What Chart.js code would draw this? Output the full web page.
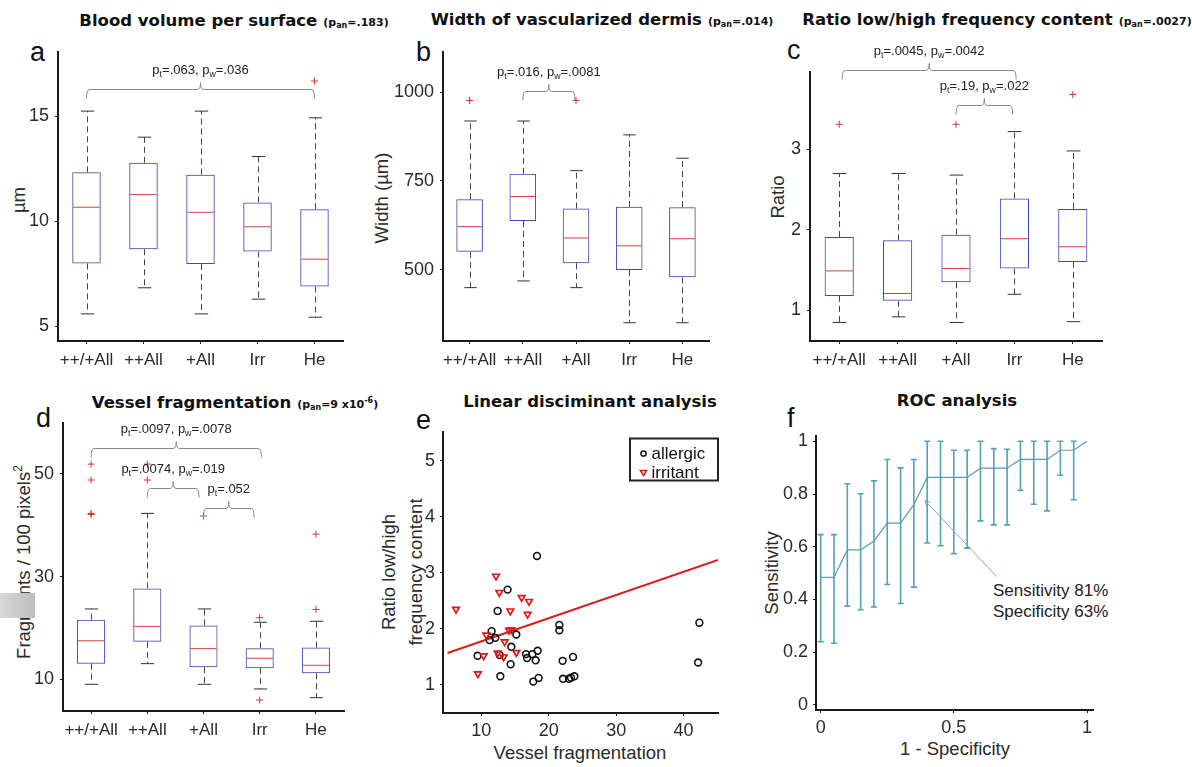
<!DOCTYPE html>
<html><head><meta charset="utf-8">
<script src="https://cdn.jsdelivr.net/npm/chart.js@4.4.1/dist/chart.umd.min.js"></script>
<style>
html,body{margin:0;padding:0;background:#fff;width:1192px;height:767px;overflow:hidden;position:relative;font-family:'Liberation Sans',Arial,sans-serif;color:#222}
canvas{position:absolute}
.t{position:absolute;transform:translateX(-50%);white-space:nowrap;font-family:'DejaVu Sans',sans-serif;font-weight:bold;font-size:16.5px;line-height:24px;color:#111}
.t small{font-size:11px;margin-left:6px}
.t sub{font-size:8px;vertical-align:-2px}
.t sup{font-size:8px;vertical-align:5px}
.lt{position:absolute;font-size:27px;line-height:27px;color:#111}
.yl{position:absolute;transform:translate(-50%,-50%) rotate(-90deg);white-space:nowrap;font-size:18.5px;color:#2a2a2a;line-height:27px;text-align:center}
.yl sup{font-size:12px;vertical-align:8px}
.xl{position:absolute;transform:translate(-50%,-50%);white-space:nowrap;font-size:18.5px;color:#2a2a2a}
.ann{position:absolute;font-size:17px;color:#222;line-height:21px;white-space:nowrap}
.gray{position:absolute;left:0;top:593px;width:35px;height:25px;background:linear-gradient(to right,#d8d8d8,#bdbdbd);}
</style></head><body>

<div class="t" style="left:234px;top:9px">Blood volume per surface<small>(p<sub>an</sub>=.183)</small></div>
<div class="t" style="left:602px;top:8px">Width of vascularized dermis<small>(p<sub>an</sub>=.014)</small></div>
<div class="t" style="left:997px;top:8px">Ratio low/high frequency content<small>(p<sub>an</sub>=.0027)</small></div>
<div class="t" style="left:235px;top:389px">Vessel fragmentation<small>(p<sub>an</sub>=9 x10<sup>-6</sup>)</small></div>
<div class="t" style="left:590px;top:390px">Linear disciminant analysis</div>
<div class="t" style="left:957px;top:389px">ROC analysis</div>

<div class="lt" style="left:30px;top:39px">a</div>
<div class="lt" style="left:416px;top:39px">b</div>
<div class="lt" style="left:787px;top:37px">c</div>
<div class="lt" style="left:36px;top:405px">d</div>
<div class="lt" style="left:416px;top:407px">e</div>
<div class="lt" style="left:787px;top:405px">f</div>

<div class="yl" style="left:18px;top:200px">µm</div>
<div class="yl" style="left:381px;top:198px">Width (µm)</div>
<div class="yl" style="left:777px;top:197px">Ratio</div>
<div class="yl" style="left:21px;top:562px">Fragments / 100 pixels<sup>2</sup></div>
<div class="yl" style="left:402px;top:572px">Ratio low/high<br>frequency content</div>
<div class="yl" style="left:771px;top:573px">Sensitivity</div>
<div class="xl" style="left:580px;top:753px">Vessel fragmentation</div>
<div class="xl" style="left:955px;top:749px">1 - Specificity</div>
<div class="ann" style="left:993px;top:580px">Sensitivity 81%<br>Specificity 63%</div>
<div class="gray"></div>

<script>
const FF = "'Liberation Sans', Arial, sans-serif";
Chart.defaults.font.family = FF;
Chart.defaults.color = '#2a2a2a';
Chart.defaults.animation = false;

// ---------- DATA ----------
const groups = ['++/+All', '++All', '+All', 'Irr', 'He'];

// a: Blood volume per surface (µm)
const bloodLow  = [5.6, 6.84, 5.6, 6.3, 5.44];
const bloodQ1   = [8.0, 8.67, 7.97, 8.57, 6.9];
const bloodMed  = [10.67, 11.27, 10.43, 9.74, 8.2];
const bloodQ3   = [12.33, 12.78, 12.22, 10.9, 10.57];
const bloodHigh = [15.24, 14.0, 15.24, 13.08, 14.92];
const bloodOut  = [[], [], [], [], [16.67]];
const bloodTicks = [5, 10, 15];
const bloodBrackets = [{from: 0, to: 4, level: 16.3, text: 'p_t=.063, p_w=.036'}];

// b: Width of vascularized dermis (µm)
const widthLow  = [449, 468, 449, 350, 350];
const widthQ1   = [550, 637, 518, 499, 478];
const widthMed  = [621, 706, 589, 567, 587];
const widthQ3   = [698, 770, 672, 677, 676];
const widthHigh = [919, 919, 779, 880, 814];
const widthOut  = [[977], [], [977], [], []];
const widthTicks = [500, 750, 1000];
const widthBrackets = [{from: 1, to: 1.98, level: 1004.5, text: 'p_t=.016, p_w=.0081'}];

// c: Ratio low/high frequency content
const ratioLow  = [0.85, 0.92, 0.85, 1.20, 0.86];
const ratioQ1   = [1.18, 1.12, 1.35, 1.52, 1.60];
const ratioMed  = [1.49, 1.21, 1.52, 1.89, 1.79];
const ratioQ3   = [1.91, 1.87, 1.94, 2.39, 2.26];
const ratioHigh = [2.70, 2.70, 2.68, 3.22, 2.98];
const ratioOut  = [[3.31], [], [3.31], [], [3.68]];
const ratioTicks = [1, 2, 3];
const ratioBrackets = [
  {from: 0.05, to: 3.03, level: 3.985, text: 'p_t=.0045, p_w=.0042'},
  {from: 2, to: 2.97, level: 3.547, text: 'p_t=.19, p_w=.022'}
];

// d: Vessel fragmentation (fragments / 100 pixels^2)
const fragLow  = [9.03, 13.05, 9.03, 8.12, 6.42];
const fragQ1   = [13.05, 17.3, 12.36, 12.16, 11.17];
const fragMed  = [17.5, 20.3, 15.97, 14.1, 12.73];
const fragQ3   = [21.6, 27.7, 20.5, 16.05, 16.17];
const fragHigh = [23.7, 42.3, 23.7, 21.1, 21.3];
const fragOut  = [[51.9, 48.8, 42.1, 42.3], [51.9, 48.8], [41.8], [22.0, 5.97], [38.26, 23.6]];
const fragTicks = [10, 30, 50];
const fragBrackets = [
  {from: 0, to: 3.03, level: 55.0, text: 'p_t=.0097, p_w=.0078'},
  {from: 1, to: 1.92, level: 47.2, text: 'p_t=.0074, p_w=.019'},
  {from: 2, to: 2.9, level: 43.43, text: 'p_t=.052'}
];

// e: Linear discriminant analysis
const allergicX = [18.26, 13.9, 12.42, 11.53, 11.23, 12.08, 15.19, 9.45, 12.72, 14.45, 14.35, 12.82, 16.63, 16.78, 17.57, 18.36, 18.06, 17.71, 18.5, 21.57, 21.57, 22.06, 22.12, 23.6, 23.0, 23.3, 23.8, 42.34, 42.15];
const allergicY = [3.30, 2.70, 2.32, 1.96, 1.80, 1.84, 1.90, 1.52, 1.535, 1.68, 1.37, 1.155, 1.55, 1.48, 1.55, 1.61, 1.44, 1.06, 1.125, 2.07, 1.975, 1.43, 1.11, 1.50, 1.11, 1.13, 1.155, 2.11, 1.40];
const irritantX = [12.18, 6.25, 12.67, 15.98, 17.07, 14.3, 16.87, 14.1, 14.45, 10.74, 13.46, 12.42, 10.35, 13.31, 15.19, 9.5];
const irritantY = [2.94, 2.35, 2.65, 2.56, 2.49, 2.32, 2.26, 1.975, 1.985, 1.89, 1.77, 1.57, 1.52, 1.50, 1.58, 1.20];
const ldaX = [5.0, 45.1];
const ldaY = [1.57, 3.23];
const ldaXTicks = [10, 20, 30, 40];
const ldaYTicks = [1, 2, 3, 4, 5];

// f: ROC analysis
const fpr    = [0, 0.05, 0.1, 0.15, 0.2, 0.25, 0.3, 0.35, 0.4, 0.45, 0.5, 0.55, 0.6, 0.65, 0.7, 0.75, 0.8, 0.85, 0.9, 0.95, 1];
const tpr    = [0.484, 0.484, 0.588, 0.588, 0.622, 0.69, 0.69, 0.76, 0.863, 0.863, 0.863, 0.863, 0.898, 0.898, 0.898, 0.931, 0.931, 0.931, 0.966, 0.966, 1.0];
const tprHi  = [0.646, 0.646, 0.839, 0.801, 0.85, 0.931, 0.899, 0.931, 1.0, 1.0, 0.966, 0.966, 1.0, 0.972, 0.97, 1.0, 1.0, 1.0, 1.0, 1.0, null];
const tprLo  = [0.240, 0.234, 0.375, 0.361, 0.372, 0.457, 0.385, 0.447, 0.614, 0.604, 0.574, 0.595, 0.698, 0.683, 0.683, 0.814, 0.761, 0.736, 0.871, 0.778, null];
const rocXTicks = [0, 0.5, 1];
const rocYTicks = [0, 0.2, 0.4, 0.6, 0.8, 1];
const rocNote = {from: [0.661, 0.487], to: [0.391, 0.776]};

// ---------- HELPERS ----------
const AX = '#1a1a1a';
function mkCanvas(a, m) {
  const cv = document.createElement('canvas');
  const w = (a.r - a.l) + m.L + m.R, h = (a.b - a.t) + m.T + m.B;
  cv.width = w; cv.height = h;
  cv.style.left = (a.l - m.L) + 'px'; cv.style.top = (a.t - m.T) + 'px';
  cv.style.width = w + 'px'; cv.style.height = h + 'px';
  document.body.appendChild(cv);
  return cv;
}
function axisBase() {
  return {
    grid: {display: true, drawOnChartArea: false, drawTicks: true, tickLength: 3, color: AX, tickColor: AX, offset: false},
    border: {display: true, color: AX, width: 2}
  };
}
function linAxis(min, max, ticks, size, pad, fit) {
  return Object.assign(axisBase(), {
    type: 'linear', min, max,
    ticks: {font: {size}, padding: pad, color: '#2a2a2a', callback: v => String(v)},
    afterBuildTicks: s => { s.ticks = ticks.map(v => ({value: v})); },
    afterFit: fit
  });
}
function richText(c, str, cx, cy, size) {
  const parts = [];
  for (let i = 0; i < str.length; i++) {
    if (str[i] === '_') { parts.push({t: str[i + 1], sub: true}); i++; }
    else if (parts.length && !parts[parts.length - 1].sub) parts[parts.length - 1].t += str[i];
    else parts.push({t: str[i], sub: false});
  }
  let w = 0;
  parts.forEach(p => { c.font = (p.sub ? size * 0.68 : size) + 'px ' + FF; p.w = c.measureText(p.t).width; w += p.w; });
  let x = cx - w / 2;
  c.textBaseline = 'middle'; c.textAlign = 'left';
  parts.forEach(p => { c.font = (p.sub ? size * 0.68 : size) + 'px ' + FF; c.fillText(p.t, x, p.sub ? cy + size * 0.32 : cy); x += p.w; });
}

function boxChart(area, m, low, q1, med, q3, high, out, yMin, yMax, yTicks, brackets) {
  const cv = mkCanvas(area, m);
  const outData = [];
  out.forEach((arr, i) => arr.forEach(v => outData.push({x: groups[i], y: v})));
  const boxPlugin = {
    id: 'boxwhisk',
    afterDatasetsDraw(chart) {
      const ys = chart.scales.y, c = chart.ctx;
      const bars = chart.getDatasetMeta(0).data;
      c.save();
      bars.forEach((bar, i) => {
        const px = Math.round(bar.x) + 0.5, hw = bar.width / 2, cap = bar.width * 0.235;
        const yHi = ys.getPixelForValue(high[i]), yQ3 = ys.getPixelForValue(q3[i]);
        const yLo = ys.getPixelForValue(low[i]), yQ1 = ys.getPixelForValue(q1[i]);
        c.strokeStyle = '#444'; c.lineWidth = 1; c.setLineDash([6, 4]);
        c.beginPath(); c.moveTo(px, yQ3); c.lineTo(px, yHi); c.moveTo(px, yQ1); c.lineTo(px, yLo); c.stroke();
        c.setLineDash([]); c.strokeStyle = '#333';
        c.beginPath(); c.moveTo(px - cap, yHi); c.lineTo(px + cap, yHi); c.moveTo(px - cap, yLo); c.lineTo(px + cap, yLo); c.stroke();
        const ym = ys.getPixelForValue(med[i]);
        c.strokeStyle = '#d23c3c';
        c.beginPath(); c.moveTo(bar.x - hw + 1, ym); c.lineTo(bar.x + hw - 1, ym); c.stroke();
      });
      c.restore();
    }
  };
  const brPlugin = {
    id: 'brackets',
    afterDraw(chart) {
      const xs = chart.scales.x, ys = chart.scales.y, c = chart.ctx;
      c.save(); c.strokeStyle = '#8a8a8a'; c.lineWidth = 1;
      brackets.forEach(b => {
        const x1 = xs.getPixelForValue(b.from), x2 = xs.getPixelForValue(b.to);
        const yy = Math.round(ys.getPixelForValue(b.level)) + 0.5, xm = (x1 + x2) / 2;
        const d = 9, t = 7, r = 3;
        c.beginPath();
        c.moveTo(x1, yy + d); c.quadraticCurveTo(x1, yy, x1 + r, yy); c.lineTo(xm - r, yy);
        c.quadraticCurveTo(xm, yy, xm, yy - t);
        c.quadraticCurveTo(xm, yy, xm + r, yy); c.lineTo(x2 - r, yy);
        c.quadraticCurveTo(x2, yy, x2, yy + d);
        c.stroke();
        c.fillStyle = '#222';
        richText(c, b.text, xm, yy - t - 12, 13);
      });
      c.restore();
    }
  };
  return new Chart(cv, {
    type: 'bar',
    data: {labels: groups, datasets: [
      {type: 'bar', data: q1.map((v, i) => [v, q3[i]]), backgroundColor: 'rgba(0,0,0,0)', borderColor: '#4444b6',
       borderWidth: 1, borderSkipped: false, barPercentage: 0.5, categoryPercentage: 1, order: 2},
      {type: 'scatter', data: outData, pointStyle: 'cross', pointRadius: 3.5, pointBorderColor: '#d83030',
       pointBorderWidth: 1, order: 1}
    ]},
    options: {
      responsive: false, animation: false, events: [],
      layout: {padding: {top: m.T, right: m.R, left: 0, bottom: 0}},
      plugins: {legend: {display: false}, tooltip: {enabled: false}},
      scales: {
        x: Object.assign(axisBase(), {type: 'category', offset: true,
          ticks: {font: {size: 17}, padding: 6, autoSkip: false, maxRotation: 0, color: '#2a2a2a'},
          afterFit: s => { s.height = m.B; }}),
        y: linAxis(yMin, yMax, yTicks, 18, 6, s => { s.width = m.L; })
      }
    },
    plugins: [boxPlugin, brPlugin]
  });
}

const MB = {L: 60, T: 40, R: 20, B: 40};
boxChart({l: 58, t: 52, r: 343, b: 341}, MB, bloodLow, bloodQ1, bloodMed, bloodQ3, bloodHigh, bloodOut, 4.31, 18.05, bloodTicks, bloodBrackets);
boxChart({l: 443, t: 52, r: 709, b: 341}, MB, widthLow, widthQ1, widthMed, widthQ3, widthHigh, widthOut, 298.5, 1113.7, widthTicks, widthBrackets);
boxChart({l: 810, t: 72, r: 1102, b: 341}, MB, ratioLow, ratioQ1, ratioMed, ratioQ3, ratioHigh, ratioOut, 0.62, 3.96, ratioTicks, ratioBrackets);
boxChart({l: 63, t: 423, r: 344, b: 711}, MB, fragLow, fragQ1, fragMed, fragQ3, fragHigh, fragOut, 3.83, 59.9, fragTicks, fragBrackets);

// ---------- e: scatter ----------
(function () {
  const m = {L: 50, T: 20, R: 20, B: 40};
  const cv = mkCanvas({l: 443, t: 432, r: 718, b: 713}, m);
  const legendPlugin = {
    id: 'boxlegend',
    afterDraw(chart) {
      const ca = chart.chartArea, c = chart.ctx;
      const w = 88, h = 42, x0 = ca.right - w, y0 = ca.top + 6.5;
      c.save();
      c.fillStyle = '#fff'; c.fillRect(x0, y0, w, h);
      c.strokeStyle = '#222'; c.lineWidth = 2; c.strokeRect(x0, y0, w, h);
      const ds = chart.data.datasets;
      c.lineWidth = 1.5; c.strokeStyle = ds[0].pointBorderColor;
      c.beginPath(); c.arc(x0 + 13.5, y0 + 15, 2.6, 0, Math.PI * 2); c.stroke();
      c.strokeStyle = ds[1].pointBorderColor;
      const tx = x0 + 13.5, ty = y0 + 34;
      c.beginPath(); c.moveTo(tx - 3.2, ty - 2); c.lineTo(tx + 3.2, ty - 2); c.lineTo(tx, ty + 3); c.closePath(); c.stroke();
      c.fillStyle = '#111'; c.font = '17px ' + FF; c.textAlign = 'left'; c.textBaseline = 'middle';
      c.fillText(ds[0].label, x0 + 21.5, y0 + 15.5);
      c.fillText(ds[1].label, x0 + 21.5, y0 + 34.5);
      c.restore();
    }
  };
  new Chart(cv, {
    type: 'scatter',
    data: {datasets: [
      {label: 'allergic', data: allergicX.map((x, i) => ({x, y: allergicY[i]})), pointStyle: 'circle', pointRadius: 3.4,
       pointBorderColor: '#111', pointBorderWidth: 1.6, pointBackgroundColor: 'rgba(0,0,0,0)', order: 1},
      {label: 'irritant', data: irritantX.map((x, i) => ({x, y: irritantY[i]})), pointStyle: 'triangle', pointRotation: 180,
       pointRadius: 3.8, pointBorderColor: '#e01818', pointBorderWidth: 1.7, pointBackgroundColor: 'rgba(255,255,255,0)', order: 0},
      {label: 'LDA', type: 'line', data: ldaX.map((x, i) => ({x, y: ldaY[i]})), borderColor: '#dd1c1c', borderWidth: 2,
       pointRadius: 0, fill: false, order: 2}
    ]},
    options: {
      responsive: false, animation: false, events: [],
      layout: {padding: {top: m.T, right: m.R, left: 0, bottom: 0}},
      plugins: {legend: {display: false}, tooltip: {enabled: false}},
      scales: {
        x: Object.assign(linAxis(4.32, 45.1, ldaXTicks, 18, 4, s => { s.height = m.B; }), {position: 'bottom'}),
        y: Object.assign(linAxis(0.5, 5.51, ldaYTicks, 18, 5, s => { s.width = m.L; }), {position: 'left'})
      }
    },
    plugins: [legendPlugin]
  });
})();

// ---------- f: ROC ----------
(function () {
  const m = {L: 50, T: 20, R: 20, B: 40};
  const cv = mkCanvas({l: 816, t: 436, r: 1093, b: 710}, m);
  const COL = '#559fbf';
  const errPlugin = {
    id: 'errbars',
    afterDatasetsDraw(chart) {
      const xs = chart.scales.x, ys = chart.scales.y, c = chart.ctx;
      c.save(); c.strokeStyle = COL; c.lineWidth = 1.6;
      fpr.forEach((f, i) => {
        if (tprHi[i] == null) return;
        const px = xs.getPixelForValue(f), yh = ys.getPixelForValue(tprHi[i]), yl = ys.getPixelForValue(tprLo[i]);
        c.beginPath(); c.moveTo(px, yh); c.lineTo(px, yl);
        c.moveTo(px - 3, yh); c.lineTo(px + 3, yh); c.moveTo(px - 3, yl); c.lineTo(px + 3, yl); c.stroke();
      });
      const x1 = xs.getPixelForValue(rocNote.from[0]), y1 = ys.getPixelForValue(rocNote.from[1]);
      const x2 = xs.getPixelForValue(rocNote.to[0]), y2 = ys.getPixelForValue(rocNote.to[1]);
      c.strokeStyle = '#7fa9c6'; c.lineWidth = 1;
      c.beginPath(); c.moveTo(x1, y1); c.lineTo(x2, y2);
      const ang = Math.atan2(y2 - y1, x2 - x1), L = 6;
      c.moveTo(x2, y2); c.lineTo(x2 - L * Math.cos(ang - 0.45), y2 - L * Math.sin(ang - 0.45));
      c.moveTo(x2, y2); c.lineTo(x2 - L * Math.cos(ang + 0.45), y2 - L * Math.sin(ang + 0.45));
      c.stroke();
      c.restore();
    }
  };
  new Chart(cv, {
    type: 'scatter',
    data: {datasets: [
      {label: 'ROC', data: fpr.map((x, i) => ({x, y: tpr[i]})), showLine: true, borderColor: COL, borderWidth: 1.2,
       pointRadius: 0, fill: false}
    ]},
    options: {
      responsive: false, animation: false, events: [],
      layout: {padding: {top: m.T, right: m.R, left: 0, bottom: 0}},
      plugins: {legend: {display: false}, tooltip: {enabled: false}},
      scales: {
        x: Object.assign(linAxis(-0.0176, 1.0225, rocXTicks, 18, 4, s => { s.height = m.B; }), {position: 'bottom'}),
        y: Object.assign(linAxis(-0.019, 1.02, rocYTicks, 18, 5, s => { s.width = m.L; }), {position: 'left'})
      }
    },
    plugins: [errPlugin]
  });
})();
</script>
</body></html>
